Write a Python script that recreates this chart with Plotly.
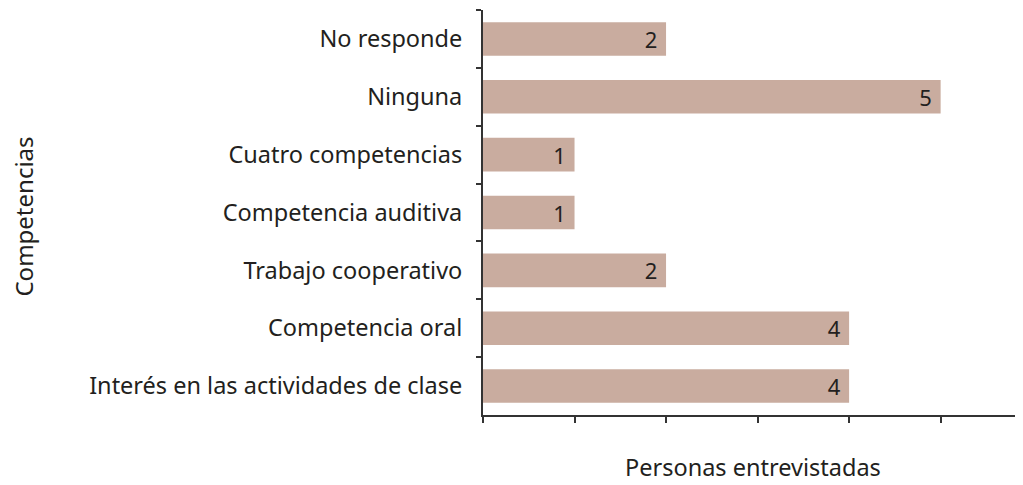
import plotly.graph_objects as go

categories = [
    "No responde",
    "Ninguna",
    "Cuatro competencias",
    "Competencia auditiva",
    "Trabajo cooperativo",
    "Competencia oral",
    "Interés en las actividades de clase",
]
values = [2, 5, 1, 1, 2, 4, 4]
x_ticks = [0, 1, 2, 3, 4, 5]
x_title = "Personas entrevistadas"
y_title = "Competencias"

FONT = "Noto Sans"
TXT = "#231f20"

fig = go.Figure(
    go.Bar(
        y=categories,
        x=values,
        orientation="h",
        marker=dict(color="#c9ac9f", line=dict(width=0)),
        text=values,
        texttemplate="%{x} ",
        textposition="inside",
        insidetextanchor="end",
        textangle=0,
        constraintext="none",
        textfont=dict(family=FONT, size=22, color=TXT),
        cliponaxis=False,
    )
)

# The page body has an 8px default margin, so the figure is sized to fit the window.
fig.update_layout(
    width=1015,
    height=477,
    margin=dict(l=475, r=0, t=2, b=70, autoexpand=False),
    plot_bgcolor="white",
    paper_bgcolor="white",
    bargap=0.42,
    showlegend=False,
    font=dict(family=FONT, color=TXT),
    annotations=[
        dict(text=x_title, xref="paper", yref="paper", x=0.5, y=-0.128,
             xanchor="center", yanchor="middle", showarrow=False,
             font=dict(family=FONT, size=23.5, color=TXT)),
        dict(text=y_title, xref="paper", yref="paper", x=-0.85, y=0.49,
             xanchor="center", yanchor="middle", showarrow=False, textangle=-90,
             font=dict(family=FONT, size=24, color=TXT)),
    ],
)

fig.update_xaxes(
    range=[0, 5.9],
    tickvals=x_ticks,
    showticklabels=False,
    ticks="outside",
    ticklen=6,
    tickwidth=1.5,
    tickcolor="#333333",
    showline=True,
    linecolor="#333333",
    linewidth=2,
    showgrid=False,
    zeroline=False,
    automargin=False,
)
fig.update_yaxes(
    categoryorder="array",
    categoryarray=categories,
    range=[6.5, -0.5],
    ticks="outside",
    tickson="boundaries",
    ticklen=5,
    tickwidth=1.5,
    tickcolor="#333333",
    showline=True,
    linecolor="#333333",
    linewidth=2,
    showgrid=False,
    zeroline=False,
    automargin=False,
    ticklabelstandoff=14,
    tickfont=dict(family=FONT, size=23.5, color=TXT),
)

fig.write_html("out.html")
